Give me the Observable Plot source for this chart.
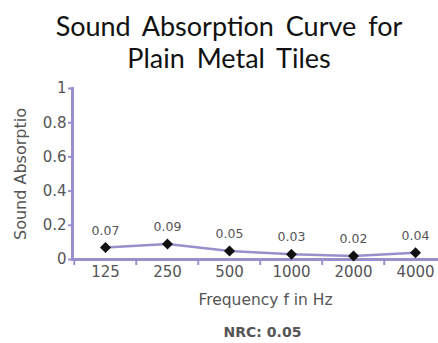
<!DOCTYPE html>
<html>
<head>
<meta charset="utf-8">
<script src="https://cdn.jsdelivr.net/npm/d3@7"></script>
<script src="https://cdn.jsdelivr.net/npm/@observablehq/plot@0.6"></script>
<style>
  html, body { margin: 0; padding: 0; background: #fff; overflow: hidden; }
  #wrap { position: relative; width: 438px; height: 343px; overflow: hidden; }
  #title { position: absolute; left: 0; top: 10px; width: 458px; text-align: center;
           font-family: Lato, sans-serif; font-size: 27px; line-height: 32px; color: #111; word-spacing: 5px; }
  #chart { position: absolute; left: 0; top: 0; }
  #nrc { position: absolute; left: 0; top: 324px; width: 525px; text-align: center;
         font-family: "DejaVu Sans", sans-serif; font-weight: bold; font-size: 14px; line-height: 17px; color: #555; }
</style>
</head>
<body>
<div id="wrap">
  <div id="chart"></div>
  <div id="title">Sound Absorption Curve for<br>Plain Metal Tiles</div>
  <div id="nrc">NRC: 0.05</div>
</div>
<script>
const frequencies = ["125", "250", "500", "1000", "2000", "4000"];
const absorption = [0.07, 0.09, 0.05, 0.03, 0.02, 0.04];
const valueLabels = ["0.07", "0.09", "0.05", "0.03", "0.02", "0.04"];
const yTicks = [0, 0.2, 0.4, 0.6, 0.8, 1];
const yTickLabels = ["0", "0.2", "0.4", "0.6", "0.8", "1"];
const yTitle = "Sound Absorptio";
const xTitle = "Frequency f in Hz";

const data = frequencies.map((f, i) => ({f, a: absorption[i], label: valueLabels[i]}));
const purple = "#9a8fca";
const gray = "#555";

const chart = Plot.plot({
  width: 438,
  height: 343,
  marginTop: 88,
  marginBottom: 84,
  marginLeft: 72,
  marginRight: 0,
  style: {fontFamily: "DejaVu Sans, sans-serif", fontSize: "15px", color: gray, background: "transparent"},
  x: {type: "band", domain: frequencies, range: [72, 447], padding: 0},
  y: {domain: [0, 1]},
  marks: [
    Plot.axisY(yTicks, {tickSize: 4, tickPadding: 2, stroke: purple, strokeWidth: 2, strokeOpacity: 1, fill: gray, fontSize: 15, tickFormat: (d, i) => yTickLabels[i], label: null}),
    Plot.axisX({tickSize: 0, tickPadding: 7, fill: gray, fontSize: 15, label: null}),
    Plot.axisX({tickSize: 6, text: null, dx: -31.25, stroke: purple, strokeWidth: 2, strokeOpacity: 1, label: null}),
    Plot.frame({anchor: "left", stroke: purple, strokeWidth: 3}),
    Plot.ruleY([0], {stroke: purple, strokeWidth: 3}),
    Plot.line(data, {x: "f", y: "a", stroke: purple, strokeWidth: 2.5}),
    Plot.dot(data, {x: "f", y: "a", symbol: "diamond2", fill: "#111", stroke: "#111", r: 4}),
    Plot.text(data, {x: "f", y: "a", text: "label", dy: -17, fill: gray, fontSize: 12.5}),
    Plot.text([yTitle], {frameAnchor: "left", textAnchor: "middle", dx: -52, rotate: -90, fill: gray, fontSize: 16}),
    Plot.text([xTitle], {frameAnchor: "bottom", dx: 10, dy: 45, fill: gray, fontSize: 15.5})
  ]
});
document.getElementById("chart").appendChild(chart);
</script>
</body>
</html>
